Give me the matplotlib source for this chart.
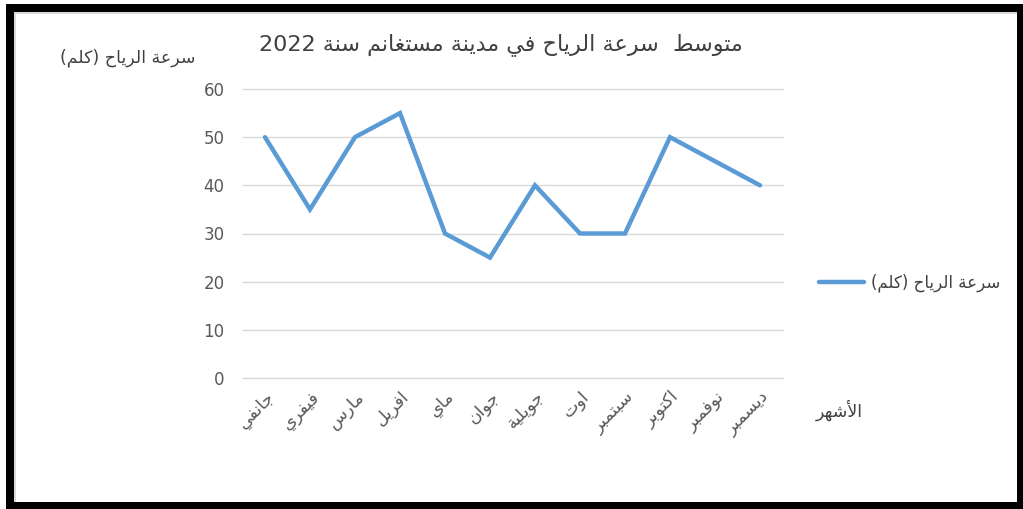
import re
import matplotlib
matplotlib.use('Agg')
import matplotlib.pyplot as plt
from matplotlib.patches import Rectangle

plt.rcParams['font.family'] = ['DejaVu Sans']

# ---------------- data ----------------
months = ['جانفي', 'فيفري', 'مارس', 'افريل', 'ماي', 'جوان',
          'جويلية', 'اوت', 'سبتمبر', 'اكتوبر', 'نوفمبر', 'ديسمبر']
wind_speed = [50, 35, 50, 55, 30, 25, 40, 30, 30, 50, 45, 40]
y_ticks = [0, 10, 20, 30, 40, 50, 60]

title_txt = 'متوسط  سرعة الرياح في مدينة مستغانم سنة 2022'
ylabel_txt = 'سرعة الرياح (كلم)'
xlabel_txt = 'الأشهر'
series_txt = 'سرعة الرياح (كلم)'

# ---------------- arabic shaping (no reshaper installed) ----------------
# letter: (isolated, final, initial, medial); None for right-joining letters
FORMS = {
    'ا': (0xFE8D, 0xFE8E, None, None),
    'أ': (0xFE83, 0xFE84, None, None),
    'ب': (0xFE8F, 0xFE90, 0xFE91, 0xFE92),
    'ة': (0xFE93, 0xFE94, None, None),
    'ت': (0xFE95, 0xFE96, 0xFE97, 0xFE98),
    'ج': (0xFE9D, 0xFE9E, 0xFE9F, 0xFEA0),
    'ح': (0xFEA1, 0xFEA2, 0xFEA3, 0xFEA4),
    'د': (0xFEA9, 0xFEAA, None, None),
    'ر': (0xFEAD, 0xFEAE, None, None),
    'س': (0xFEB1, 0xFEB2, 0xFEB3, 0xFEB4),
    'ش': (0xFEB5, 0xFEB6, 0xFEB7, 0xFEB8),
    'ط': (0xFEC1, 0xFEC2, 0xFEC3, 0xFEC4),
    'ع': (0xFEC9, 0xFECA, 0xFECB, 0xFECC),
    'غ': (0xFECD, 0xFECE, 0xFECF, 0xFED0),
    'ف': (0xFED1, 0xFED2, 0xFED3, 0xFED4),
    'ك': (0xFED9, 0xFEDA, 0xFEDB, 0xFEDC),
    'ل': (0xFEDD, 0xFEDE, 0xFEDF, 0xFEE0),
    'م': (0xFEE1, 0xFEE2, 0xFEE3, 0xFEE4),
    'ن': (0xFEE5, 0xFEE6, 0xFEE7, 0xFEE8),
    'ه': (0xFEE9, 0xFEEA, 0xFEEB, 0xFEEC),
    'و': (0xFEED, 0xFEEE, None, None),
    'ي': (0xFEF1, 0xFEF2, 0xFEF3, 0xFEF4),
}
LAM_ALEF = {'ا': (0xFEFB, 0xFEFC), 'أ': (0xFEF7, 0xFEF8)}


def joins_left(ch):
    return ch in FORMS and FORMS[ch][2] is not None


def shape(text):
    out = []
    i = 0
    n = len(text)
    while i < n:
        ch = text[i]
        if ch not in FORMS:
            out.append(ch)
            i += 1
            continue
        prev_join = i > 0 and joins_left(text[i - 1])
        if ch == 'ل' and i + 1 < n and text[i + 1] in LAM_ALEF:
            iso, fin = LAM_ALEF[text[i + 1]]
            out.append(chr(fin if prev_join else iso))
            i += 2
            continue
        nxt = text[i + 1] if i + 1 < n else ''
        next_join = joins_left(ch) and nxt in FORMS
        iso, fin, ini, med = FORMS[ch]
        if prev_join and next_join:
            c = med
        elif prev_join:
            c = fin
        elif next_join:
            c = ini
        else:
            c = iso
        out.append(chr(c))
        i += 1
    return ''.join(out)


def ar(text):
    s = shape(text)[::-1]
    s = re.sub(r'[0-9]+', lambda m: m.group(0)[::-1], s)
    return s.translate(str.maketrans('()', ')('))


# ---------------- figure ----------------
W, H = 1023, 509
fig = plt.figure(figsize=(W / 100, H / 100), dpi=100)
fig.patch.set_facecolor('white')

ax = fig.add_axes([242.5 / W, (H - 378) / H, 540 / W, 289 / H])
x = list(range(len(months)))
line, = ax.plot(x, wind_speed, color='#5B9BD5', lw=3.2,
                solid_joinstyle='miter', solid_capstyle='round', zorder=3)

ax.set_xlim(-0.5, len(months) - 0.5)
ax.set_ylim(0, 60)
ax.set_yticks(y_ticks)
ax.set_xticks(x)
ax.set_xticklabels([ar(m) for m in months], rotation=45, ha='right', va='top',
                   rotation_mode='anchor', fontsize=12.5, color='#595959')
ax.tick_params(axis='x', length=0, pad=7)
ax.tick_params(axis='y', length=0, pad=13, labelsize=12, labelcolor='#595959')
ax.grid(axis='y', color='#D9D9D9', lw=1)
for gl in ax.get_ygridlines():
    gl.set_clip_on(False)
ax.set_axisbelow(True)
for sp in ax.spines.values():
    sp.set_visible(False)

fig.text(501 / W, 1 - 45 / H, ar(title_txt), ha='center', va='center',
         fontsize=16, color='#404040')
fig.text(196 / W, 1 - 58 / H, ar(ylabel_txt), ha='right', va='center',
         fontsize=12.5, color='#404040')
fig.text(816 / W, 1 - 410 / H, ar(xlabel_txt), ha='left', va='center',
         fontsize=12.5, color='#404040')

leg = fig.legend([line], [ar(series_txt)], loc='center left',
                 bbox_to_anchor=(811 / W, 1 - 283 / H), frameon=False,
                 borderpad=0, handlelength=2.7, handletextpad=0.4,
                 prop={'size': 12})
for t in leg.get_texts():
    t.set_color('#404040')

# black frame around the picture
def px_rect(x0, y0, x1, y1, color):
    fig.add_artist(Rectangle((x0 / W, 1 - y1 / H), (x1 - x0) / W, (y1 - y0) / H,
                             transform=fig.transFigure, facecolor=color,
                             edgecolor='none', zorder=10))

px_rect(14, 12, 1017, 14, '#D9D9D9')
px_rect(14, 12, 16, 502, '#D9D9D9')
px_rect(6, 4, 1023, 12, 'black')
px_rect(6, 4, 14, 509, 'black')
px_rect(1017, 4, 1023, 509, 'black')
px_rect(6, 502, 1023, 509, 'black')

fig.savefig('out.png', dpi=100, facecolor='white')
